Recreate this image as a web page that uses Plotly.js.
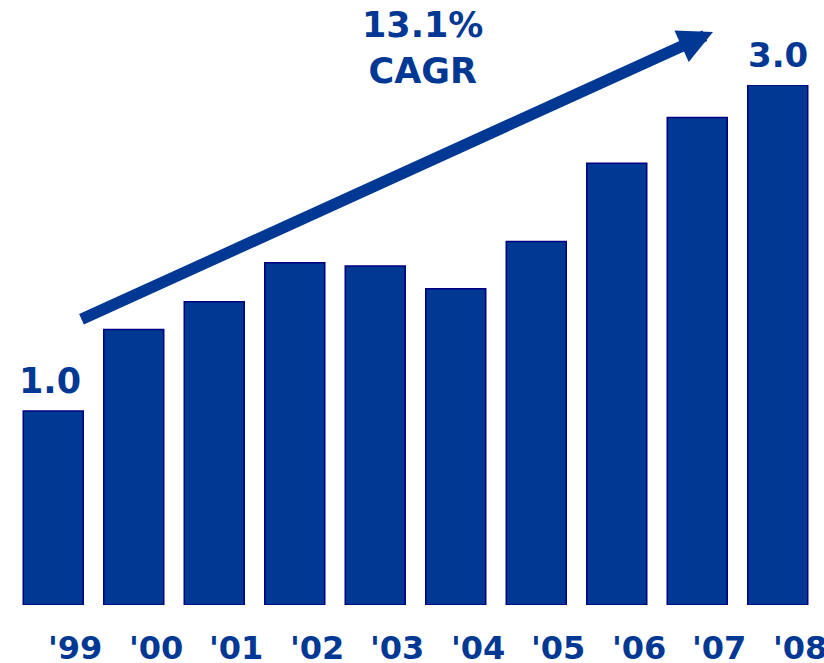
<!DOCTYPE html>
<html>
<head>
<meta charset="utf-8">
<script src="https://cdn.plot.ly/plotly-3.0.1.min.js"></script>
<style>html,body{margin:0;padding:0;background:#fff;}#chart{width:824px;height:663px;}</style>
</head>
<body>
<div id="chart"></div>
<script>
// Data
const years = ["'99", "'00", "'01", "'02", "'03", "'04", "'05", "'06", "'07", "'08"];
const values = [1.00, 1.50, 1.67, 1.91, 1.89, 1.75, 2.04, 2.52, 2.80, 3.00];
const endLabels = ["1.0", "3.0"];
const cagrText = "13.1%<br>CAGR";

const AXIS_MIN = -0.19;
const AXIS_MAX = 3.0;
const BLUE = '#003893';
const FONT = 'DejaVu Sans, Verdana, sans-serif';

const trace = {
  type: 'bar',
  x: years,
  y: values.map(v => v - AXIS_MIN),
  base: AXIS_MIN,
  marker: {color: BLUE, line: {color: '#000080', width: 1.5}},
  hoverinfo: 'skip'
};

const annotations = [];
// year labels (offset to the right of bar centres, as in the reference)
years.forEach(function (yr) {
  annotations.push({
    x: yr, xref: 'x', y: 0, yref: 'paper', yanchor: 'top', xanchor: 'center',
    xshift: 22, yshift: -22, showarrow: false, text: yr,
    font: {family: FONT, size: 32, color: BLUE, weight: 'bold'}
  });
});
// first and last value labels
annotations.push({
  x: years[0], xref: 'x', y: values[0], yref: 'y', yanchor: 'bottom', xanchor: 'center',
  xshift: -3, yshift: 8, showarrow: false, text: endLabels[0],
  font: {family: FONT, size: 35, color: BLUE, weight: 'bold'}
});
annotations.push({
  x: years[years.length - 1], xref: 'x', y: values[values.length - 1], yref: 'y',
  yanchor: 'bottom', xanchor: 'center', yshift: 8, showarrow: false, text: endLabels[1],
  font: {family: FONT, size: 34, color: BLUE, weight: 'bold'}
});
// CAGR arrow
annotations.push({
  x: (713 - 13) / 805, xref: 'paper', y: (605 - 32) / 520, yref: 'paper',
  ax: -633, ay: 288, axref: 'pixel', ayref: 'pixel',
  showarrow: true, text: '', arrowhead: 2, arrowsize: 0.6, arrowwidth: 11.5,
  arrowcolor: BLUE, standoff: 0
});
// CAGR text
annotations.push({
  x: (423 - 13) / 805, xref: 'paper', y: (605 - 3) / 520, yref: 'paper', yanchor: 'top', xanchor: 'center',
  showarrow: false, text: cagrText,
  font: {family: FONT, size: 35, color: BLUE, weight: 'bold'}
});

const layout = {
  width: 824, height: 663,
  margin: {l: 13, r: 6, t: 85, b: 58, pad: 0},
  paper_bgcolor: '#ffffff', plot_bgcolor: '#ffffff',
  showlegend: false,
  bargap: 0.255,
  xaxis: {type: 'category', range: [-0.5, 9.5], showticklabels: false, showgrid: false,
          zeroline: false, showline: false, ticks: ''},
  yaxis: {range: [AXIS_MIN, AXIS_MAX], showticklabels: false, showgrid: false,
          zeroline: false, showline: false, ticks: ''},
  annotations: annotations
};

Plotly.newPlot('chart', [trace], layout, {displayModeBar: false, staticPlot: true});
</script>
</body>
</html>
